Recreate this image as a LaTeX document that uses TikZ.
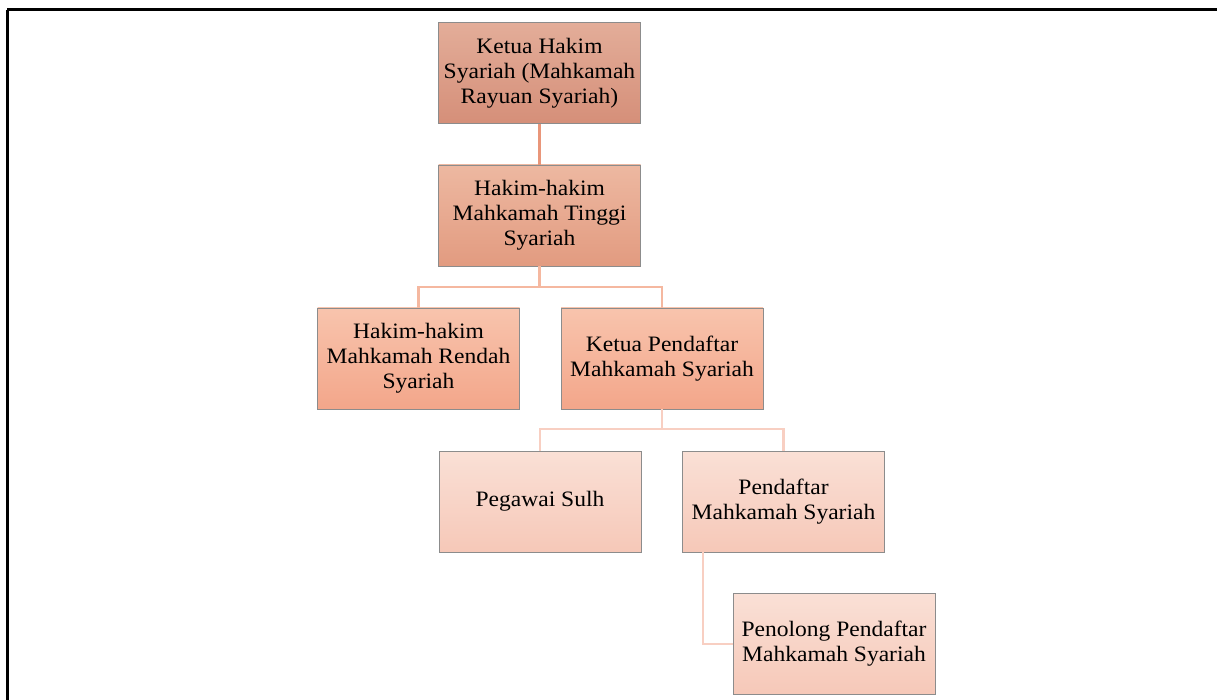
\documentclass[tikz,border=0pt]{standalone}
\usepackage{fontspec}
\setmainfont[FakeStretch=1.07]{Liberation Serif}
\definecolor{aT}{HTML}{E3AD99}
\definecolor{aB}{HTML}{D58F79}
\definecolor{bT}{HTML}{EDB8A1}
\definecolor{bB}{HTML}{E29B80}
\definecolor{cT}{HTML}{F8C4AD}
\definecolor{cB}{HTML}{F3A68A}
\definecolor{dT}{HTML}{FAE0D6}
\definecolor{dB}{HTML}{F6C8B8}
\definecolor{lA}{HTML}{E9967A}
\definecolor{lB}{HTML}{F5B8A0}
\definecolor{lC}{HTML}{F8CFC2}
\tikzset{
  box/.style={rectangle, draw=gray!90, line width=0.9pt, minimum width=202pt, minimum height=101pt,
    inner sep=0pt, align=center, font=\fontsize{22}{25}\selectfont},
  lvA/.style={box, top color=aT, bottom color=aB},
  lvB/.style={box, top color=bT, bottom color=bB},
  lvC/.style={box, top color=cT, bottom color=cB},
  lvD/.style={box, top color=dT, bottom color=dB},
  conA/.style={draw=lA, line width=2.2pt},
  conB/.style={draw=lB, line width=2.2pt},
  conC/.style={draw=lC, line width=2.2pt},
}
\begin{document}
\begin{tikzpicture}[x=1pt,y=-1pt]
\useasboundingbox (0,0) rectangle (1217,700);
\fill[white] (0,0) rectangle (1217,700);
\draw[line width=3pt] (7,10) -- (1217,10);
\draw[line width=3pt] (7,10) -- (7,700);

\node[lvA] (kh) at (539.5,73) {Ketua Hakim\\Syariah (Mahkamah\\Rayuan Syariah)};
\node[lvB] (ht) at (539.5,215.5) {Hakim-hakim\\Mahkamah Tinggi\\Syariah};
\node[lvC] (hr) at (418.5,358.5) {Hakim-hakim\\Mahkamah Rendah\\Syariah};
\node[lvC] (kp) at (662,358.5) {Ketua Pendaftar\\Mahkamah Syariah};
\node[lvD] (ps) at (540,501.5) {Pegawai Sulh};
\node[lvD] (pd) at (783.5,501.5) {Pendaftar\\Mahkamah Syariah};
\node[lvD] (pp) at (834,644) {Penolong Pendaftar\\Mahkamah Syariah};

\coordinate (j1) at (539.5,287);
\coordinate (j2) at (662,429);

\draw[conA] (kh.south) -- (ht.north);
\draw[conB] (ht.south) -- (j1);
\draw[conB] (hr.north) |- (j1) -| (kp.north);
\draw[conC] (kp.south) -- (j2);
\draw[conC] (ps.north) |- (j2) -| (pd.north);
\draw[conC] (pd.south -| 703,0) |- (pp.west);
\end{tikzpicture}
\end{document}
